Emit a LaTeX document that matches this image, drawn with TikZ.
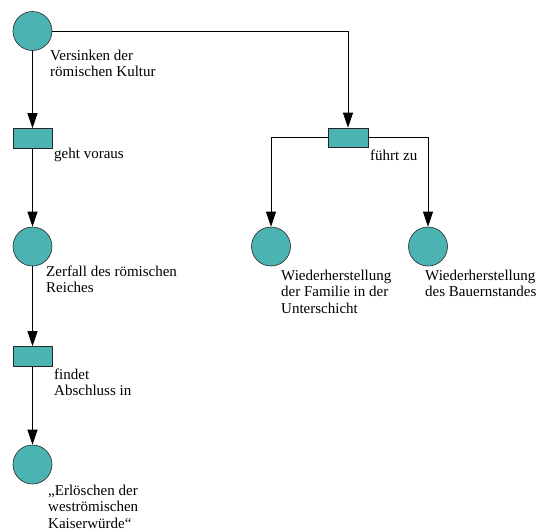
\documentclass[tikz,border=0pt]{standalone}
\usepackage{fontspec}
\setmainfont{Liberation Serif}
\usetikzlibrary{arrows.meta}
\definecolor{petal}{RGB}{75,180,178}
\begin{document}
\begin{tikzpicture}[x=1pt,y=-1pt,
  place/.style={circle,draw=black!85,fill=petal,minimum size=39pt,inner sep=0pt,line width=0.6pt},
  trans/.style={rectangle,draw=black!85,fill=petal,minimum width=39pt,minimum height=20pt,inner sep=0pt,line width=0.6pt},
  lbl/.style={anchor=base west,align=left,inner sep=0pt,font=\rmfamily\fontsize{15pt}{16.7pt}\selectfont},
  arc/.style={draw=black,line width=0.8pt,-{Triangle[length=15pt,width=10pt]}}]
\useasboundingbox (0,0) rectangle (539,531);
\node[place] (c1) at (32.5,31) {};
\node[trans] (t1) at (32.5,138.5) {};
\node[place] (c2) at (32.5,246.5) {};
\node[trans] (t3) at (32.5,356.5) {};
\node[place] (c4) at (32.5,464.5) {};
\node[trans,minimum width=40pt,minimum height=19pt] (t2) at (348,137.5) {};
\node[place] (c5) at (271,246.5) {};
\node[place] (c6) at (428,246.5) {};
\draw[arc] (c1) -- (t1);
\draw[arc] (c1.east) -| (t2.north);
\draw[arc] (t1) -- (c2);
\draw[arc] (c2) -- (t3);
\draw[arc] (t3) -- (c4);
\draw[arc] (t2.west) -| (c5.north);
\draw[arc] (t2.east) -| (c6.north);
% base anchor of a multi-line node is its last line
\node[lbl] (l1) at (50,76.7) {Versinken der\\römischen Kultur};
\node[lbl] (l2) at (54,158) {geht voraus};
\node[lbl] (l3) at (46,292.7) {Zerfall des römischen\\Reiches};
\node[lbl] (l4) at (54,395.7) {findet\\Abschluss in};
\node[lbl] (l5) at (48,528.5) {„Erlöschen der\\weströmischen\\Kaiserwürde“};
\node[lbl] (l6) at (370,160) {führt zu};
\node[lbl] (l7) at (281,313.4) {Wiederherstellung\\der Familie in der\\Unterschicht};
\node[lbl] (l8) at (425,296.7) {Wiederherstellung\\des Bauernstandes};
\end{tikzpicture}
\end{document}
